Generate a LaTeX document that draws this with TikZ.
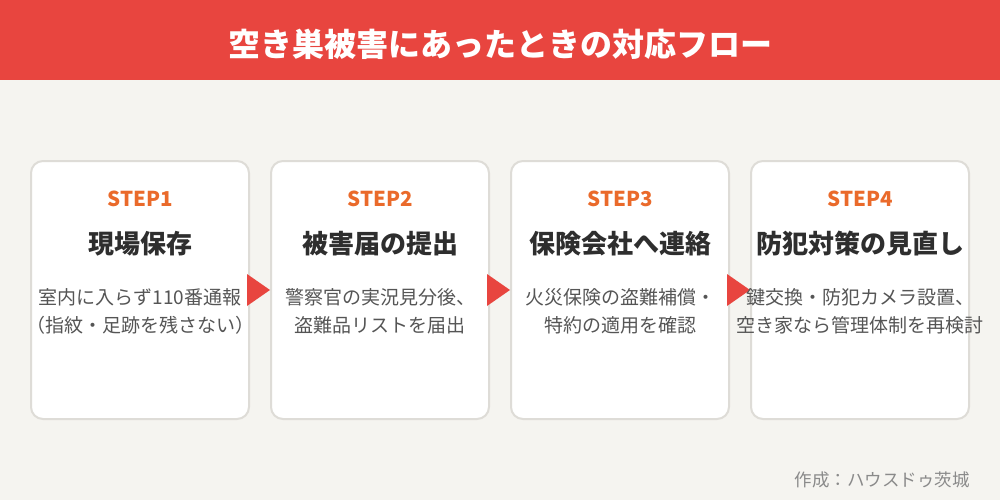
\documentclass[tikz,border=0pt]{standalone}
\usepackage{fontspec}
\setmainfont{Noto Sans CJK JP}
\usetikzlibrary{calc}
\definecolor{hdr}{HTML}{E8453F}
\definecolor{bgc}{HTML}{F5F4F0}
\definecolor{cardedge}{HTML}{DEDCD7}
\definecolor{stepc}{HTML}{EA6A2B}
\definecolor{titlec}{HTML}{2E2E2E}
\definecolor{descc}{HTML}{555555}
\definecolor{creditc}{HTML}{8A8A8A}
\tikzset{
  card/.style={draw=cardedge, line width=2pt, fill=white, rounded corners=12pt,
    minimum width=218pt, minimum height=258pt, inner sep=0pt},
  steplabel/.style={text=stepc, font=\fontsize{20.5}{24}\selectfont\bfseries, inner sep=0pt},
  steptitle/.style={text=titlec, font=\fontsize{26}{30}\selectfont\bfseries, inner sep=0pt},
  stepdesc/.style={text=descc, font=\fontsize{19}{28}\selectfont, align=center, inner sep=0pt},
  flowarrow/.style={fill=hdr},
  headtext/.style={text=white, font=\fontsize{32}{36}\selectfont\bfseries, inner sep=0pt},
  credit/.style={text=creditc, font=\fontsize{17.5}{20}\selectfont, inner sep=0pt, anchor=east}
}
\begin{document}
\begin{tikzpicture}[x=1pt,y=-1pt]
\useasboundingbox (0,0) rectangle (1000,500);
\fill[bgc] (0,0) rectangle (1000,500);
\fill[hdr] (0,0) rectangle (1000,80);
\node[headtext] (head) at (500,44) {空き巣被害にあったときの対応フロー};

\node[card] (c1) at (140,290) {};
\node[card] (c2) at (380,290) {};
\node[card] (c3) at (620,290) {};
\node[card] (c4) at (860,290) {};

\foreach \a/\b in {c1/c2,c2/c3,c3/c4}{
  \fill[flowarrow] ($(\a.east)+(-3,-16)$) -- ($(\b.west)+(0,0)$) -- ($(\a.east)+(-3,16)$) -- cycle;
}

\node[steplabel] (s1) at (140,199) {STEP1};
\node[steplabel] (s2) at (380,199) {STEP2};
\node[steplabel] (s3) at (620,199) {STEP3};
\node[steplabel] (s4) at (860,199) {STEP4};

\node[steptitle] (t1) at (140,244) {現場保存};
\node[steptitle] (t2) at (380,244) {被害届の提出};
\node[steptitle] (t3) at (620,244) {保険会社へ連絡};
\node[steptitle] (t4) at (860,244) {防犯対策の見直し};

\node[stepdesc] (d1) at (140,311) {室内に入らず110番通報\\（指紋・足跡を残さない）};
\node[stepdesc] (d2) at (380,311) {警察官の実況見分後、\\盗難品リストを届出};
\node[stepdesc] (d3) at (620,311) {火災保険の盗難補償・\\特約の適用を確認};
\node[stepdesc] (d4) at (860,311) {鍵交換・防犯カメラ設置、\\空き家なら管理体制を再検討};

\node[credit] (cr) at (970,480) {作成：ハウスドゥ茨城};
\end{tikzpicture}
\end{document}
